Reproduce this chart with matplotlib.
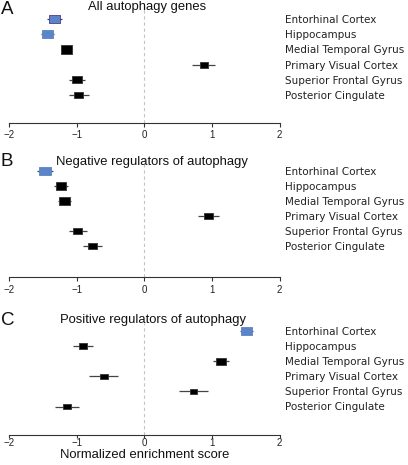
import numpy as np
import matplotlib
matplotlib.use('Agg')
import matplotlib.pyplot as plt
from matplotlib.path import Path

# brain regions (same order in every panel)
regions = ['Entorhinal Cortex', 'Hippocampus', 'Medial Temporal Gyrus',
           'Primary Visual Cortex', 'Superior Frontal Gyrus', 'Posterior Cingulate']

# normalized enrichment scores and half-widths of the whiskers
nes_all = [-1.33, -1.43, -1.15, 0.88, -0.99, -0.97]
err_all = [0.115, 0.09, 0.086, 0.17, 0.12, 0.15]

nes_neg = [-1.47, -1.23, -1.18, 0.95, -0.98, -0.77]
err_neg = [0.115, 0.10, 0.094, 0.16, 0.14, 0.14]

nes_pos = [1.51, -0.91, 1.13, -0.60, 0.73, -1.14]
err_pos = [0.10, 0.15, 0.12, 0.21, 0.22, 0.18]

titles = ['All autophagy genes', 'Negative regulators of autophagy',
          'Positive regulators of autophagy']
letters = ['A', 'B', 'C']
xticks = [-2, -1, 0, 1, 2]
xticklabels = ['\u22122', '\u22121', '0', '1', '2']
xlabel = 'Normalized enrichment score'

# ---- styling / layout (pixels of a 408x465 canvas) ----
W, H = 408, 465
BLUE = '#5b85c6'
EDGE = '#333333'
fills = [[BLUE, BLUE, 'k', 'k', 'k', 'k'],
         [BLUE, 'k', 'k', 'k', 'k', 'k'],
         [BLUE, 'k', 'k', 'k', 'k', 'k']]
edges = [['#4a3d8f', BLUE, EDGE, EDGE, EDGE, EDGE],
         [BLUE, EDGE, EDGE, EDGE, EDGE, EDGE],
         [BLUE, EDGE, EDGE, EDGE, EDGE, EDGE]]
box_w = [[11, 11, 11.7, 8.3, 10, 9.3],
         [12, 10, 11, 8.3, 9, 9.3],
         [11, 8.3, 10.3, 7.7, 7, 8.3]]
# panel geometry: axes top, axis line, first row, row spacing, title/letter centres, tick look
geom = [dict(top=2, axis=123, row0=19, step=15.2, ty=7, tx=147, ly=9, tl=3, tp=2.0),
        dict(top=159, axis=277, row0=171, step=15.0, ty=162, tx=152, ly=162, tl=3, tp=2.5),
        dict(top=323, axis=435, row0=331, step=15.1, ty=320, tx=153, ly=320, tl=2.2, tp=0.2)]
x_left, x_right = 9, 279.5

# rectangle marker (the original image is stretched horizontally)
rect = Path([(-0.7, -0.5), (0.7, -0.5), (0.7, 0.5), (-0.7, 0.5), (-0.7, -0.5)],
            [Path.MOVETO, Path.LINETO, Path.LINETO, Path.LINETO, Path.CLOSEPOLY])

panels = [(nes_all, err_all), (nes_neg, err_neg), (nes_pos, err_pos)]

fig = plt.figure(figsize=(W / 100, H / 100), dpi=100)
px2pt = 72 / 100

for k, (nes, err) in enumerate(panels):
    g = geom[k]
    ax = fig.add_axes([x_left / W, 1 - g['axis'] / H,
                       (x_right - x_left) / W, (g['axis'] - g['top']) / H])
    ypos = np.arange(len(regions))
    ax.axvline(0, color='#c4c4c4', lw=0.8, ls=(0, (3, 2.5)), zorder=0)
    ax.errorbar(nes, ypos, xerr=err, fmt='none', ecolor='#444444',
                elinewidth=0.9, capsize=0, zorder=2)
    sizes = [(w * px2pt) ** 2 for w in box_w[k]]
    ax.scatter(nes, ypos, s=sizes, marker=rect, c=fills[k],
               edgecolors=edges[k], linewidths=0.6, zorder=3)

    ax.set_xlim(-2, 2)
    ax.set_ylim((g['axis'] - g['row0']) / g['step'],
                (g['top'] - g['row0']) / g['step'])
    for s in ['left', 'right', 'top']:
        ax.spines[s].set_visible(False)
    ax.spines['bottom'].set_bounds(-2, 2)
    ax.spines['bottom'].set_linewidth(0.8)
    ax.spines['bottom'].set_color(EDGE)
    ax.set_xticks(xticks)
    ax.set_xticklabels(xticklabels, fontfamily='Liberation Sans', fontsize=7)
    ax.tick_params(axis='x', length=g['tl'], width=0.8, pad=g['tp'],
                   colors=EDGE, labelcolor='#222222')
    ax.yaxis.tick_right()
    ax.set_yticks(ypos)
    ax.set_yticklabels(regions, fontfamily='DejaVu Sans', fontsize=7.5,
                       color='#222222')
    ax.tick_params(axis='y', length=0, pad=4)
    ax.patch.set_alpha(0)

    fig.text(g['tx'] / W, 1 - g['ty'] / H, titles[k], ha='center', va='center',
             fontfamily='Liberation Sans', fontsize=9.4, color='#111111')
    fig.text(1 / W, 1 - g['ly'] / H, letters[k], ha='left', va='center',
             fontfamily='Liberation Sans', fontsize=13.5, color='#111111')

fig.text(145 / W, 1 - 455 / H, xlabel, ha='center', va='center',
         fontfamily='Liberation Sans', fontsize=9.4, color='#111111')

fig.savefig('out.png', dpi=100)
